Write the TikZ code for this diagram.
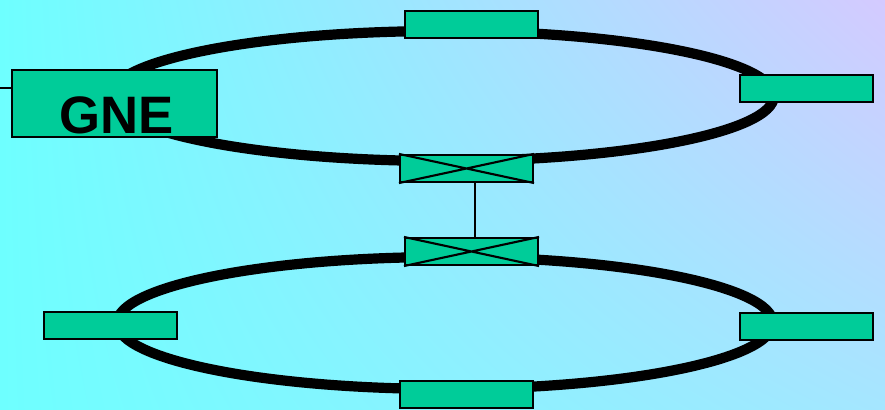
\documentclass[tikz,border=0pt]{standalone}
\usepackage{fontspec}
\setmainfont{Liberation Sans}
\usetikzlibrary{shadings}
\definecolor{bgcyan}{RGB}{110,255,255}
\definecolor{bglilac}{RGB}{212,202,255}
\definecolor{bgblue}{RGB}{165,230,255}
\definecolor{negreen}{RGB}{0,204,153}

\begin{document}
\begin{tikzpicture}[x=0.02cm,y=-0.02cm,
  nebox/.style={draw=black,line width=1.2pt,fill=negreen,minimum width=2.66cm,minimum height=0.54cm,inner sep=0pt},
  ring/.style={draw=black,line width=5.8pt},
  wire/.style={draw=black,line width=1.2pt}]
\useasboundingbox (0,0) rectangle (885,409); %Picture size
\shade[upper left=bgcyan,lower left=bgcyan,upper right=bglilac,lower right=bgblue] (0,0) rectangle (885,409); %Background
\draw[ring] (442,96) ellipse [x radius=6.64cm, y radius=1.3cm]; %Upper ring
\draw[ring] (445,323) ellipse [x radius=6.56cm, y radius=1.32cm]; %Lower ring
\node[nebox] (ntop) at (471.5,24.5) {}; %Upper ring nodes
\node[nebox] (neast) at (806.5,88.5) {};
\node[nebox,minimum width=4.1cm,minimum height=1.34cm] (gne) at (114.5,103.5) {};
\node[font=\bfseries\fontsize{30}{32}\selectfont,anchor=base] (gnetext) at (117,133) {GNE};
\node[nebox] (xtop) at (466.5,168.5) {}; %Cross-connects
\node[nebox] (xbot) at (471.5,251.5) {};
\foreach \n in {xtop,xbot}
  \draw[wire] (\n.north west) -- (\n.south east) (\n.south west) -- (\n.north east);
\node[nebox] (swest) at (110.5,325.5) {}; %Lower ring nodes
\node[nebox] (seast) at (806.5,326.5) {};
\node[nebox] (sbot) at (466.5,394.5) {};
\coordinate (feed) at (0,88); %Link into GNE
\draw[wire] (feed) -- (feed -| gne.west);
\draw[wire] (xtop.south -| 475,0) -- (xbot.north -| 475,0); %Link between rings
\end{tikzpicture}
\end{document}
